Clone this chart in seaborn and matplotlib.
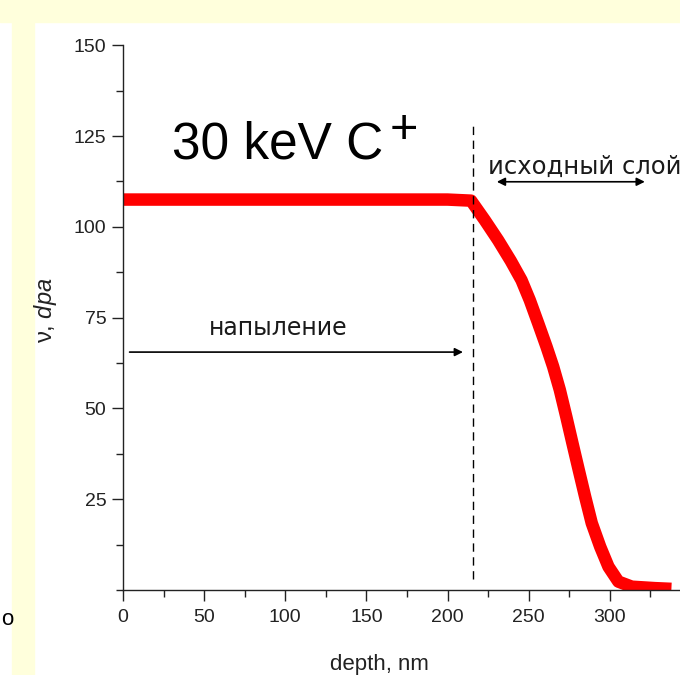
import matplotlib
matplotlib.use("Agg")
import matplotlib.pyplot as plt
from matplotlib.ticker import MultipleLocator
import pandas as pd
import seaborn as sns

# значения
depth = [0, 50, 100, 150, 200, 214.5, 223.0, 231.2, 239.0, 245.6, 250.7, 255.9,
         261.0, 265.1, 269.2, 273.2, 277.0, 280.9, 284.8, 288.9, 294.1, 299.2,
         305.3, 313.6, 327.9, 338.0]
dpa = [107.5, 107.5, 107.5, 107.5, 107.5, 107.2, 101.8, 96.3, 90.6, 85.3, 79.8,
       73.4, 67.0, 61.5, 55.1, 47.7, 40.4, 33.0, 25.7, 18.4, 11.9, 6.4,
       2.3, 0.9, 0.5, 0.3]
boundary_depth = 216
x_ticks = [0, 50, 100, 150, 200, 250, 300]
y_ticks = [25, 50, 75, 100, 125, 150]

sns.set_style("ticks")
plt.rcParams["font.family"] = ["Liberation Sans", "DejaVu Sans"]
plt.rcParams["mathtext.fontset"] = "custom"
plt.rcParams["mathtext.rm"] = "Liberation Sans"
plt.rcParams["mathtext.it"] = "Liberation Sans:italic"

fig = plt.figure(figsize=(6.8, 6.75), dpi=100)
fig.patch.set_facecolor("white")

# жёлтые поля слайда
yellow = "#FFFFDC"
fig.add_artist(plt.Rectangle((0, 0.967), 1, 0.033, transform=fig.transFigure,
                             color=yellow, zorder=-5))
fig.add_artist(plt.Rectangle((0.018, 0), 0.032, 1, transform=fig.transFigure,
                             color=yellow, zorder=-5))
fig.text(0.001, 0.082, "о", fontsize=16, ha="left", va="center", color="black")

ax = fig.add_axes([0.181, 0.126, 0.835, 0.807])
ax.set_facecolor("white")

df = pd.DataFrame({"depth": depth, "dpa": dpa})
sns.lineplot(data=df, x="depth", y="dpa", color="#FF0000", linewidth=9,
             solid_capstyle="butt", ax=ax)

ax.vlines(boundary_depth, 3, 129, colors="black", linewidth=1.0,
          linestyles=(0, (6, 4)))

ax.set_xlim(0, 350)
ax.set_ylim(0, 150)
ax.set_xticks(x_ticks)
ax.set_yticks(y_ticks)
ax.xaxis.set_minor_locator(MultipleLocator(25))
ax.yaxis.set_minor_locator(MultipleLocator(12.5))
sns.despine(ax=ax)
for s in ["left", "bottom"]:
    ax.spines[s].set_linewidth(1.0)
    ax.spines[s].set_color("#222222")
ax.tick_params(which="major", direction="out", length=8, width=1, color="#222222",
               labelsize=14, labelcolor="#222222")
ax.tick_params(axis="x", which="major", pad=6)
ax.tick_params(axis="y", which="major", pad=4)
ax.tick_params(which="minor", direction="out", length=5, width=1, color="#222222")

ax.set_xlabel("")
ax.set_ylabel("")
ax.text(0.451, -0.137, "depth, nm", transform=ax.transAxes, ha="center",
        va="center", fontsize=16, color="#222222")
ax.text(-0.137, 0.514, r"ν, $\mathit{dpa}$", transform=ax.transAxes, ha="center",
        va="center", rotation=90, fontsize=17, color="#222222")

ax.text(30.2, 118.9, "30 keV C", fontsize=37, ha="left", va="baseline",
        color="black")
ax.text(164.5, 123.0, "+", fontsize=35, ha="left", va="baseline", color="black")

ax.text(95.9, 70.2, "напыление", fontsize=17, ha="center", va="baseline",
        color="#1a1a1a", family=["DejaVu Sans"])
ax.annotate("", xy=(209.5, 65.5), xytext=(4, 65.5),
            arrowprops=dict(arrowstyle="-|>", color="black", lw=1.2,
                            mutation_scale=12, shrinkA=0, shrinkB=0))

ax.text(224.9, 114.6, "исходный слой", fontsize=17.5, ha="left", va="baseline",
        color="#1a1a1a", family=["DejaVu Sans"], clip_on=False)
ax.annotate("", xy=(321.6, 112.4), xytext=(230.4, 112.4),
            arrowprops=dict(arrowstyle="<|-|>", color="black", lw=1.2,
                            mutation_scale=12, shrinkA=0, shrinkB=0))

fig.savefig("out.png", dpi=100)
